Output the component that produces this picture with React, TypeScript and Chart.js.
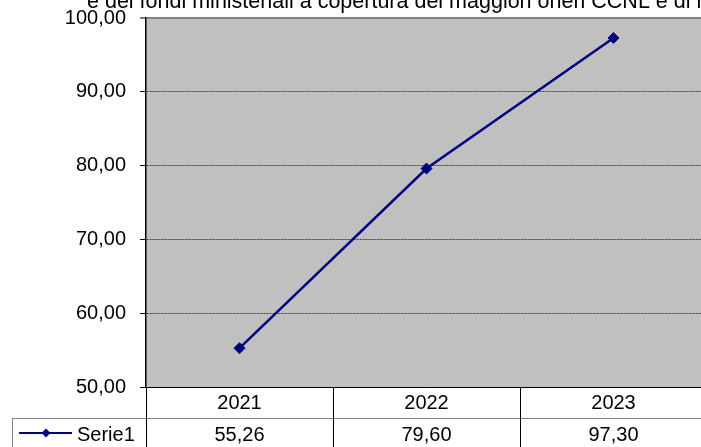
import React, { useEffect, useRef } from "react";
import { Chart, registerables } from "chart.js";

Chart.register(...registerables);

const titleText = "e dei fondi ministeriali a copertura dei maggiori oneri CCNL e di r";
const categories = ["2021", "2022", "2023"];
const seriesName = "Serie1";
const seriesValues = [55.26, 79.6, 97.3];
const yMin = 50;
const yMax = 100;
const yStep = 10;

const FONT = '"Liberation Sans", Arial, sans-serif';
const fmt = (v: number) => v.toFixed(2).replace(".", ",");

const decorPlugin = {
  id: "decor",
  beforeDraw(chart: any) {
    const { ctx, chartArea } = chart;
    ctx.save();
    ctx.fillStyle = "#ffffff";
    ctx.fillRect(0, 0, chart.width, chart.height);
    ctx.fillStyle = "#C0C0C0";
    ctx.fillRect(chartArea.left, chartArea.top, chartArea.right - chartArea.left, chartArea.bottom - chartArea.top);
    ctx.restore();
  },
  afterDraw(chart: any) {
    const { ctx, chartArea } = chart;
    const xs = chart.scales.x;
    const H = chart.height;
    const W = chart.width;
    const bottom = Math.round(chartArea.bottom);
    const row2 = bottom + 31;
    const c0 = xs.getPixelForValue(0);
    const c1 = xs.getPixelForValue(1);
    const colW = c1 - c0;
    ctx.save();
    // title (clipped at top)
    ctx.fillStyle = "#000";
    ctx.font = `21.5px ${FONT}`;
    ctx.textAlign = "left";
    ctx.textBaseline = "alphabetic";
    ctx.fillText(titleText, 87, 8);

    // table lines
    ctx.lineWidth = 1;
    ctx.strokeStyle = "#808080";
    ctx.beginPath();
    ctx.moveTo(12, row2 + 0.5);
    ctx.lineTo(W, row2 + 0.5);
    ctx.moveTo(12.5, row2);
    ctx.lineTo(12.5, H);
    ctx.stroke();

    ctx.strokeStyle = "#000";
    ctx.beginPath();
    for (let i = 0; i <= categories.length; i++) {
      const x = Math.round(c0 - colW / 2 + i * colW) + 0.5;
      ctx.moveTo(x, bottom);
      ctx.lineTo(x, H);
    }
    ctx.stroke();

    // texts
    ctx.font = `20px ${FONT}`;
    ctx.textAlign = "center";
    ctx.fillStyle = "#000";
    categories.forEach((c, i) => {
      const x = xs.getPixelForValue(i);
      ctx.fillText(c, x, bottom + 22);
      ctx.fillText(fmt(seriesValues[i]), x, row2 + 23);
    });

    // legend key
    const ly = row2 + 15;
    ctx.strokeStyle = "#000080";
    ctx.lineWidth = 2;
    ctx.beginPath();
    ctx.moveTo(19, ly);
    ctx.lineTo(72, ly);
    ctx.stroke();
    ctx.fillStyle = "#000080";
    ctx.beginPath();
    ctx.moveTo(46 - 4.5, ly);
    ctx.lineTo(46, ly - 4.5);
    ctx.lineTo(46 + 4.5, ly);
    ctx.lineTo(46, ly + 4.5);
    ctx.closePath();
    ctx.fill();
    ctx.fillStyle = "#000";
    ctx.textAlign = "left";
    ctx.fillText(seriesName, 77, row2 + 23);
    ctx.restore();
  },
};

export default function App() {
  const ref = useRef<HTMLCanvasElement | null>(null);
  useEffect(() => {
    if (!ref.current) return;
    const chart = new Chart(ref.current, {
      type: "line",
      data: {
        labels: categories,
        datasets: [
          {
            label: seriesName,
            data: seriesValues,
            borderColor: "#000080",
            backgroundColor: "#000080",
            borderWidth: 2.5,
            pointStyle: "rectRot",
            pointRadius: 5.5,
            pointBorderWidth: 1,
            pointBackgroundColor: "#000080",
            pointBorderColor: "#000080",
            tension: 0,
          },
        ],
      },
      options: {
        animation: false,
        responsive: false,
        maintainAspectRatio: false,
        devicePixelRatio: 1,
        layout: { padding: { left: 0, top: 18, right: 13, bottom: 60 } },
        plugins: { legend: { display: false }, tooltip: { enabled: false }, title: { display: false } },
        scales: {
          x: {
            type: "category",
            display: false,
            offset: true,
          },
          y: {
            min: yMin,
            max: yMax,
            afterFit(scale: any) {
              scale.width = 146;
              scale.paddingTop = 0;
              scale.paddingBottom = 0;
            },
            ticks: {
              stepSize: yStep,
              padding: 14,
              color: "#000",
              font: { family: FONT, size: 20 },
              callback: (v: any) => fmt(Number(v)),
            },
            grid: {
              color: (c: any) => {
                const v = c.tick ? c.tick.value : 0;
                if (v === yMax) return "#808080";
                if (v === yMin) return "#000000";
                return "#404040";
              },
              lineWidth: (c: any) => (c.tick && c.tick.value === yMax ? 2 : 1),
              tickColor: "#000",
              tickLength: 6,
              tickWidth: 1,
              drawTicks: true,
            },
            border: {
              display: true,
              color: "#000",
              width: 1.5,
              dash: (c: any) => {
                const v = c.tick ? c.tick.value : yMin;
                return v === yMin || v === yMax ? [] : [2, 1];
              },
            },
          },
        },
      },
      plugins: [decorPlugin],
    });
    return () => chart.destroy();
  }, []);
  return (
    <div
      style={{
        position: "fixed",
        left: 0,
        top: 0,
        width: 701,
        height: 447,
        overflow: "hidden",
        background: "#fff",
      }}
    >
      <canvas ref={ref} width={720} height={447} style={{ display: "block", width: 720, height: 447 }} />
    </div>
  );
}
